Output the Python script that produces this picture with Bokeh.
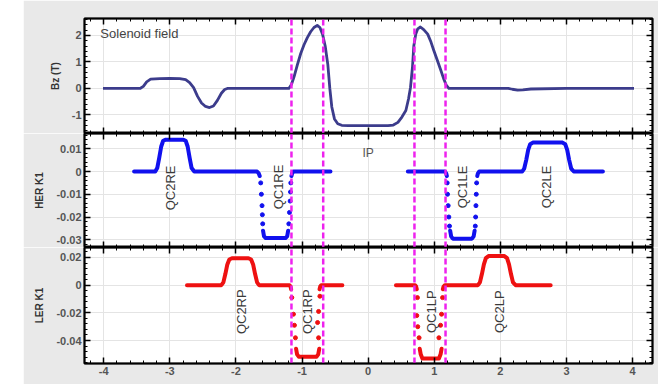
import numpy as np
from bokeh.plotting import figure
from bokeh.layouts import column, row
from bokeh.models import Range1d, LinearAxis, FixedTicker, Spacer, CustomLabelingPolicy
from bokeh.embed import file_html
from bokeh.resources import INLINE
from bokeh.core.properties import value

nan = float("nan")

# ---------------- data ----------------
x_ticks = [-4, -3, -2, -1, 0, 1, 2, 3, 4]
x_tick_labels = ["-4", "-3", "-2", "-1", "0", "1", "2", "3", "4"]

bz_ticks = [2, 1, 0, -1]
bz_tick_labels = ["2", "1", "0", "-1"]
her_ticks = [0.01, 0, -0.01, -0.02, -0.03]
her_tick_labels = ["0.01", "0", "-0.01", "-0.02", "-0.03"]
ler_ticks = [0.02, 0, -0.02, -0.04]
ler_tick_labels = ["0.02", "0", "-0.02", "-0.04"]

# Solenoid field Bz (T)
bz_s = [-4.01, -3.45, -3.40, -3.35, -3.29, -3.15, -3.0, -2.85, -2.76, -2.70, -2.64, -2.58,
        -2.52, -2.46, -2.40, -2.34, -2.28, -2.22, -2.17, -2.13, -1.20, -1.16, -1.12, -1.07,
        -1.02, -0.97, -0.92, -0.87, -0.82, -0.77, -0.73, -0.69, -0.65, -0.61, -0.58, -0.55,
        -0.51, -0.46, -0.40, -0.30, 0.0, 0.30, 0.38, 0.45, 0.51, 0.57, 0.61, 0.64, 0.67,
        0.69, 0.72, 0.75, 0.79, 0.84, 0.90, 0.95, 0.99, 1.04, 1.10, 1.14, 1.18, 1.22, 1.60,
        2.12, 2.18, 2.26, 2.34, 2.46, 3.0, 4.02]
bz_val = [0, 0, 0.08, 0.25, 0.35, 0.37, 0.38, 0.37, 0.33, 0.22, 0.03, -0.30,
          -0.55, -0.68, -0.72, -0.66, -0.45, -0.18, -0.04, 0, 0, 0.15, 0.45, 0.9,
          1.32, 1.65, 1.92, 2.14, 2.30, 2.38, 2.30, 2.05, 1.6, 0.9, 0.0, -0.7,
          -1.15, -1.33, -1.39, -1.40, -1.40, -1.40, -1.38, -1.28, -1.08, -0.83, -0.4, 0.04, 0.8,
          1.6, 2.05, 2.25, 2.32, 2.22, 2.05, 1.75, 1.45, 1.1, 0.68, 0.38, 0.13, 0.0, 0.0,
          0.0, -0.03, -0.06, -0.05, -0.02, 0.0, 0.0]

# HER K1 (solid parts, NaN separated)
her_s = [-3.54, -3.22, -3.19, -3.16, -3.13, -3.10, -3.06, -2.80, -2.76, -2.73, -2.70, -2.67, -2.63,
         -1.68, -1.655, -1.64, nan,
         -1.59, -1.575, -1.55, -1.25, -1.225, -1.21, nan,
         -1.16, -1.15, -1.13, -0.57, nan,
         0.60, 1.16, 1.18, 1.19, nan,
         1.24, 1.255, 1.28, 1.57, 1.595, 1.61, nan,
         1.65, 1.66, 1.68, 2.33, 2.36, 2.39, 2.42, 2.45, 2.49, 2.94, 2.98, 3.01, 3.04, 3.07, 3.11, 3.55]
her_val = [0, 0, 0.0015, 0.006, 0.011, 0.0135, 0.014, 0.014, 0.0135, 0.011, 0.006, 0.0015, 0,
           0, -0.0008, -0.002, nan,
           -0.026, -0.0285, -0.0292, -0.0292, -0.0285, -0.026, nan,
           -0.002, -0.0008, 0, 0, nan,
           0, 0, -0.0008, -0.002, nan,
           -0.026, -0.0285, -0.0295, -0.0295, -0.0285, -0.026, nan,
           -0.002, -0.0008, 0, 0, 0.0013, 0.005, 0.0095, 0.012, 0.0127, 0.0127, 0.012, 0.0095,
           0.005, 0.0013, 0, 0]
# HER sparse samples on the steep QC1 edges
her_dot_s = [-1.625, -1.615, -1.605, -1.60, -1.595,
             -1.20, -1.19, -1.18, -1.175, -1.17,
             1.195, 1.20, 1.21, 1.22, 1.23,
             1.64, 1.635, 1.63, 1.625, 1.62]
her_dot_val = [-0.005, -0.010, -0.015, -0.019, -0.023,
               -0.023, -0.018, -0.013, -0.009, -0.005,
               -0.005, -0.010, -0.015, -0.020, -0.024,
               -0.005, -0.010, -0.015, -0.020, -0.024]

# LER K1
ler_s = [-2.74, -2.22, -2.19, -2.16, -2.13, -2.10, -2.06, -1.81, -1.77, -1.74, -1.71, -1.68, -1.65,
         -1.19, -1.175, -1.165, nan,
         -1.09, -1.075, -1.05, -0.78, -0.755, -0.74, nan,
         -0.735, -0.725, -0.71, -0.39, nan,
         0.42, 0.71, 0.725, 0.735, nan,
         0.78, 0.795, 0.82, 1.07, 1.095, 1.11, nan,
         1.13, 1.14, 1.16, 1.66, 1.69, 1.72, 1.75, 1.78, 1.82, 2.06, 2.10, 2.13, 2.16, 2.19, 2.23, 2.76]
ler_val = [0, 0, 0.002, 0.008, 0.015, 0.0185, 0.0194, 0.0194, 0.0185, 0.015, 0.008, 0.002, 0,
           0, -0.001, -0.003, nan,
           -0.046, -0.050, -0.0517, -0.0517, -0.050, -0.046, nan,
           -0.003, -0.001, 0, 0, nan,
           0, 0, -0.001, -0.003, nan,
           -0.046, -0.050, -0.053, -0.053, -0.050, -0.046, nan,
           -0.003, -0.001, 0, 0, 0.002, 0.008, 0.015, 0.0195, 0.021, 0.021, 0.0195, 0.015,
           0.008, 0.002, 0, 0]
ler_dot_s = [-1.155, -1.13, -1.115, -1.10,
             -0.75, -0.765, -0.75, -0.73,
             0.745, 0.735, 0.75, 0.77,
             1.07, 1.095, 1.11, 1.125]
ler_dot_val = [-0.009, -0.021, -0.029, -0.038,
               -0.038, -0.027, -0.019, -0.008,
               -0.009, -0.022, -0.030, -0.038,
               -0.038, -0.029, -0.021, -0.009]

her_names = ["QC2RE", "QC1RE", "QC1LE", "QC2LE"]
ler_names = ["QC2RP", "QC1RP", "QC1LP", "QC2LP"]

# IR region boxes (s)
box_left = [-1.16, 0.70]
box_right = [-0.68, 1.17]

# ---------------- layout / style ----------------
X_START, X_END = -4.29, 4.30
FRAME_W = 568
GRAY = "#e9e9e9"
FONT = "Liberation Sans"
MAGENTA = "#ee22ee"

x_range = Range1d(X_START, X_END)
x_minor = list(np.round(np.arange(-4.2, 4.21, 0.2), 3))

no_labels = CustomLabelingPolicy(code="return new Set()")


def style_axis(ax, ticks, minor, labels=None):
    ax.ticker = FixedTicker(ticks=ticks, minor_ticks=minor)
    ax.axis_line_color = "black"
    ax.axis_line_width = 1.5
    ax.major_tick_in = 6
    ax.major_tick_out = 0
    ax.minor_tick_in = 3
    ax.minor_tick_out = 0
    ax.major_tick_line_width = 1.5
    ax.minor_tick_line_width = 1
    ax.major_tick_line_color = "black"
    ax.minor_tick_line_color = "black"
    if labels is None:
        ax.major_label_policy = no_labels
        ax.major_label_text_font_size = "0px"
        ax.major_label_standoff = 0
    else:
        ax.major_label_overrides = {t: l for t, l in zip(ticks, labels)}
        ax.major_label_text_font_size = "11px"
        ax.major_label_text_font = FONT
        ax.major_label_text_font_style = "bold"
        ax.major_label_text_color = "#555555"
        ax.major_label_standoff = 3


def make_panel(y0, y1, frame_h, yt, ylab, ymin, axis_label, top, bottom, x_labels):
    p = figure(frame_width=FRAME_W, frame_height=frame_h, x_range=x_range,
               y_range=Range1d(y0, y1), output_backend="svg", toolbar_location=None,
               title=None, min_border_left=61, min_border_right=6,
               min_border_top=top, min_border_bottom=bottom,
               border_fill_color=GRAY, background_fill_color="white",
               outline_line_color="black", outline_line_width=2)
    style_axis(p.xaxis[0], x_ticks, x_minor, x_tick_labels if x_labels else None)
    style_axis(p.yaxis[0], yt, ymin, ylab)
    p.yaxis[0].axis_label = axis_label
    p.yaxis[0].axis_label_text_font = FONT
    p.yaxis[0].axis_label_text_font_size = "10px"
    p.yaxis[0].axis_label_text_font_style = "bold"
    p.yaxis[0].axis_label_text_color = "#333333"
    p.yaxis[0].axis_label_standoff = 8
    ax_top = LinearAxis()
    style_axis(ax_top, x_ticks, x_minor, None)
    p.add_layout(ax_top, "above")
    ax_right = LinearAxis()
    style_axis(ax_right, yt, ymin, None)
    p.add_layout(ax_right, "right")
    p.xgrid.ticker = FixedTicker(ticks=x_ticks)
    p.ygrid.ticker = FixedTicker(ticks=yt)
    p.grid.grid_line_color = "#e4e4e4"
    p.grid.grid_line_width = 1
    return p


def add_boxes(p):
    xs = box_left + box_right
    p.segment(x0=xs, x1=xs, y0=[p.y_range.start] * len(xs), y1=[p.y_range.end] * len(xs),
              line_color=MAGENTA, line_width=2.5, line_dash="6 3")


# ---- panel 1: solenoid field ----
H1, H2, H3 = 115, 114, 116
p1 = make_panel(-1.70, 2.64, H1, bz_ticks, bz_tick_labels,
                list(np.round(np.arange(-1.6, 2.61, 0.2), 3)), "Bz (T)", 18, 0, False)
p1.line(bz_s, bz_val, line_color="#3c3c8c", line_width=2.8, line_join="round")
p1.text(x=[-4.05], y=[2.08], text=["Solenoid field"], text_font=value(FONT),
        text_font_size="13px", text_color="#444444", text_align="left", text_baseline="middle")
add_boxes(p1)

# ---- panel 2: HER K1 ----
p2 = make_panel(-0.0334, 0.0167, H2, her_ticks, her_tick_labels,
                list(np.round(np.arange(-0.032, 0.0161, 0.002), 4)), "HER K1", 0, 0, False)
p2.line(her_s, her_val, line_color="#1111ee", line_width=4, line_cap="round", line_join="round")
p2.scatter(her_dot_s, her_dot_val, size=4, color="#1111ee")
p2.text(x=[-2.99, -1.36, 1.43, 2.70], y=[-0.0072, -0.0068, -0.0068, -0.0068], text=her_names,
        angle=np.pi / 2, text_font=value(FONT), text_font_size="13px", text_color="#3a3a3a",
        text_align="center", text_baseline="middle")
p2.text(x=[0.0], y=[0.0083], text=["IP"], text_font=value(FONT), text_font_size="12px",
        text_color="#555555", text_align="center", text_baseline="middle")
add_boxes(p2)

# ---- panel 3: LER K1 ----
p3 = make_panel(-0.0566, 0.0272, H3, ler_ticks, ler_tick_labels,
                list(np.round(np.arange(-0.056, 0.0261, 0.004), 4)), "LER K1", 0, 21, True)
p3.line(ler_s, ler_val, line_color="#ee1111", line_width=4, line_cap="round", line_join="round")
p3.scatter(ler_dot_s, ler_dot_val, size=4, color="#ee1111")
p3.text(x=[-1.91, -0.92, 0.96, 1.99], y=[-0.0192, -0.0192, -0.0192, -0.0192], text=ler_names,
        angle=np.pi / 2, text_font=value(FONT), text_font_size="13px", text_color="#3a3a3a",
        text_align="center", text_baseline="middle")
add_boxes(p3)

layout = row(Spacer(width=23, height=10), column(p1, p2, p3, spacing=0), spacing=0)

open("out.html", "w").write(file_html(layout, INLINE))
